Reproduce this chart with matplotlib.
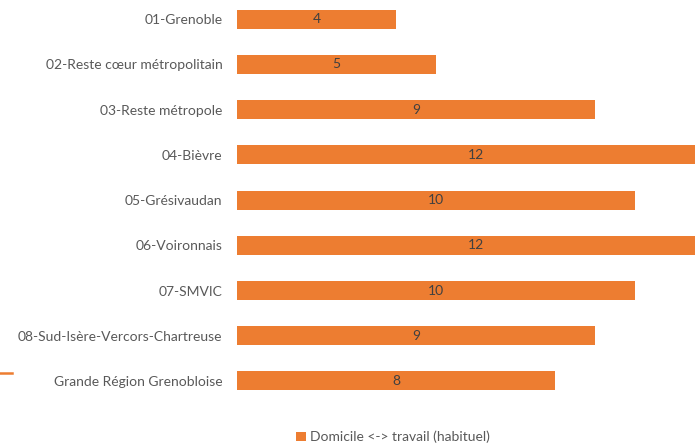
import matplotlib
matplotlib.use("Agg")
import matplotlib.pyplot as plt
from matplotlib.lines import Line2D

# Data
categories = ["01-Grenoble", "02-Reste cœur métropolitain", "03-Reste métropole",
              "04-Bièvre", "05-Grésivaudan", "06-Voironnais", "07-SMVIC",
              "08-Sud-Isère-Vercors-Chartreuse", "Grande Région Grenobloise"]
values = [4, 5, 9, 12, 10, 12, 10, 9, 8]
series_name = "Domicile <-> travail (habituel)"

orange = "#ED7D31"
grey = "#595959"

plt.rcParams["font.family"] = ["Lato", "DejaVu Sans"]

fig = plt.figure(figsize=(6.95, 4.45), dpi=100)
ax = fig.add_axes([0.341, 0.093, 0.659, 0.915])

pos = list(range(len(categories)))
bars = ax.barh(pos, values, height=0.42, color=orange, label=series_name)
ax.set_xlim(0, 11.52)
ax.set_ylim(len(categories) - 0.5, -0.5)

ax.set_yticks(pos)
ax.set_yticklabels(categories, fontsize=10, color=grey)
ax.tick_params(axis="y", length=0, pad=10.5)
ax.set_xticks([])
for s in ax.spines.values():
    s.set_visible(False)

for b, v in zip(bars, values):
    ax.text(v / 2, b.get_y() + b.get_height() / 2, str(v),
            ha="center", va="center", fontsize=10, color="#404040")

fig.legend(handles=[bars], labels=[series_name], loc="center",
           bbox_to_anchor=(0.565, 0.018), frameon=False, fontsize=10,
           handlelength=0.7, handleheight=0.7, handletextpad=0.3,
           labelcolor=grey)

# small orange mark at the left edge
fig.add_artist(Line2D([0, 0.017], [0.162, 0.162], color=orange, lw=1.8))

fig.savefig("out.png", dpi=100)
